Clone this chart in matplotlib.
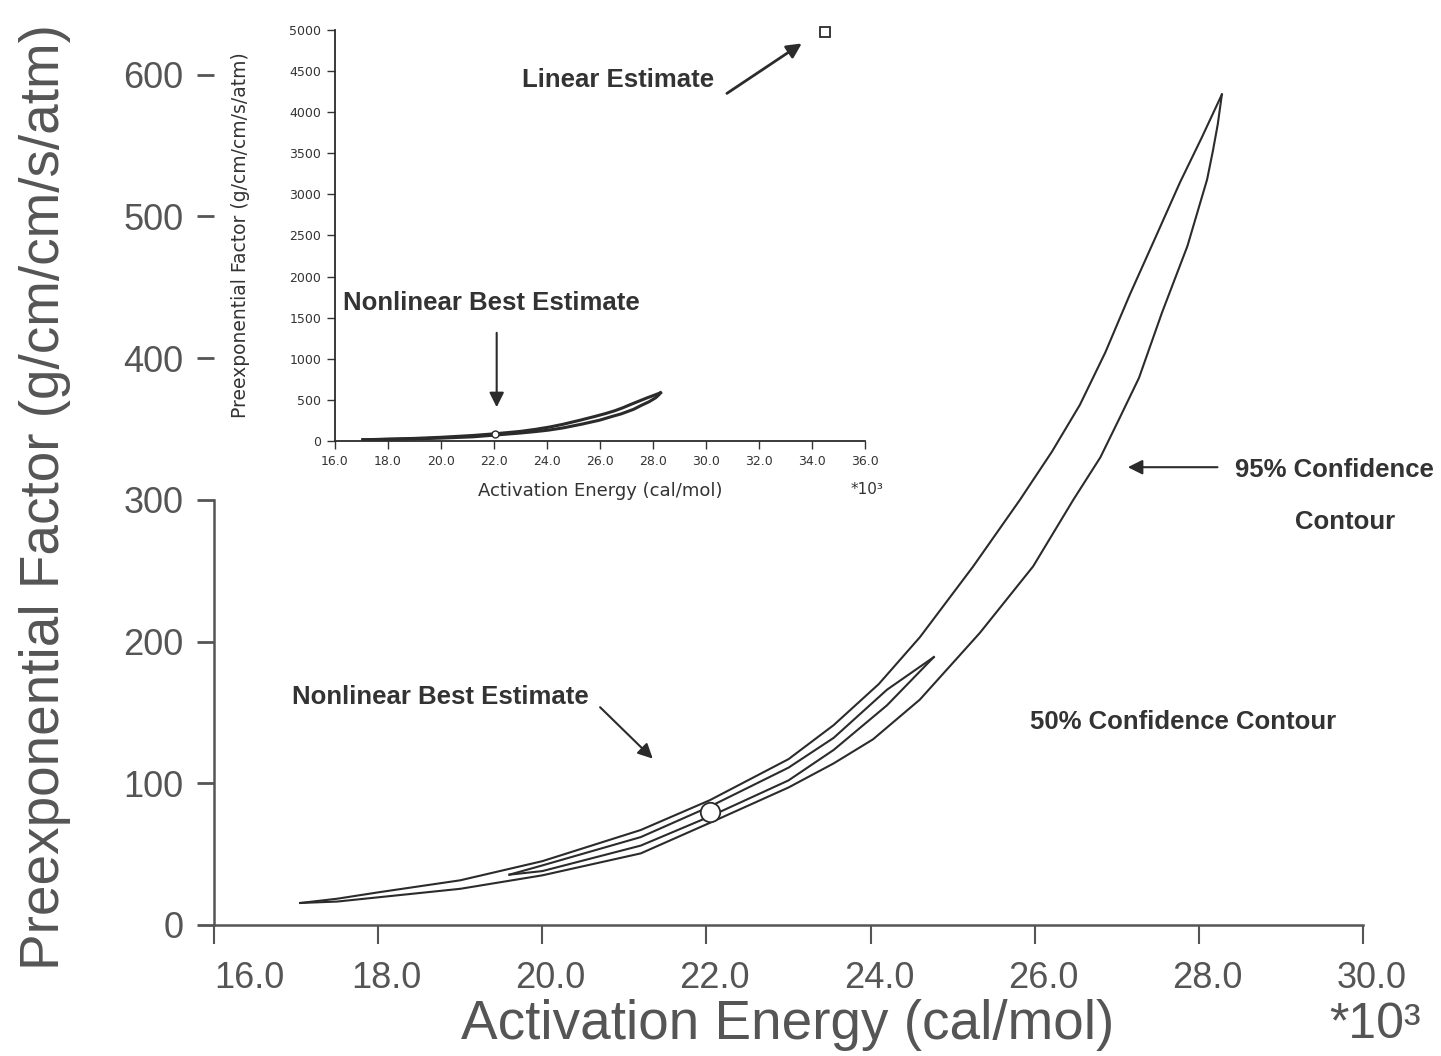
import numpy as np
import matplotlib.pyplot as plt
from matplotlib.transforms import ScaledTranslation

plt.rcParams['font.family'] = ['Liberation Sans', 'DejaVu Sans']

# Confidence contours, activation energy in 10^3 cal/mol, preexponential factor
e95_upper = [17.05, 17.5, 18.0, 19.0, 20.0, 21.2, 22.04, 23.0, 23.55, 24.1, 24.6, 25.25, 25.82,
             26.21, 26.55, 26.86, 27.16, 27.47, 27.77, 28.03, 28.28]
a95_upper = [15.5, 18.5, 23.0, 31.5, 45.0, 67.0, 88.0, 117.0, 141.0, 170.0, 203.0, 253.0, 300.0,
             334.0, 367.0, 404.0, 445.0, 485.0, 524.0, 555.0, 586.0]
e95_lower = [17.05, 17.5, 18.0, 19.0, 20.0, 21.2, 22.04, 23.0, 23.55, 24.03, 24.6, 25.33, 25.98,
             26.47, 26.8, 27.02, 27.27, 27.55, 27.86, 28.1, 28.17, 28.23, 28.28]
a95_lower = [15.5, 16.5, 19.5, 25.5, 35.0, 50.5, 72.0, 97.0, 114.0, 131.0, 159.0, 206.0, 253.0,
             300.0, 330.0, 356.0, 386.0, 432.0, 479.0, 526.0, 546.0, 565.0, 586.0]

e50 = [19.6, 20.0, 21.2, 22.04, 23.0, 23.55, 24.2, 24.77]
a50_upper = [35.5, 42.0, 62.0, 83.5, 111.0, 132.0, 166.0, 189.0]
a50_lower = [35.5, 38.0, 56.0, 76.5, 102.0, 123.5, 155.0, 189.0]

best_E, best_A = 22.04, 80.0
linear_E, linear_A = 34.5, 4970.0

main_xticks = [16.0, 18.0, 20.0, 22.0, 24.0, 26.0, 28.0, 30.0]
main_yticks = [0, 100, 200, 300, 400, 500, 600]
inset_xticks = [16.0, 18.0, 20.0, 22.0, 24.0, 26.0, 28.0, 30.0, 32.0, 34.0, 36.0]
inset_yticks = [0, 500, 1000, 1500, 2000, 2500, 3000, 3500, 4000, 4500, 5000]

line_col = '#2b2b2b'
text_col = '#333333'
axis_col = '#555555'

fig = plt.figure(figsize=(14.41, 10.56), dpi=100)

# ---- main plot ----
ax = fig.add_axes([0.1485, 0.1241, 0.7974, 0.8589])
ax.plot(e95_upper, a95_upper, color=line_col, lw=1.5)
ax.plot(e95_lower, a95_lower, color=line_col, lw=1.5)
ax.plot(e50, a50_upper, color=line_col, lw=1.5)
ax.plot(e50, a50_lower, color=line_col, lw=1.5)
ax.plot([best_E], [best_A], 'o', ms=14, mfc='white', mec=line_col, mew=1.3)

ax.set_xlim(16, 30)
ax.set_ylim(0, 640)
ax.set_xticks(main_xticks)
ax.set_xticklabels([f'{v:.1f}' for v in main_xticks])
ax.set_yticks(main_yticks)
ax.set_yticklabels([str(v) for v in main_yticks])
for s in ['top', 'right']:
    ax.spines[s].set_visible(False)
ax.spines['left'].set_bounds(0, 300)
for s in ['left', 'bottom']:
    ax.spines[s].set_color(axis_col)
    ax.spines[s].set_linewidth(1.8)
ax.tick_params(axis='x', direction='out', length=14, width=1.5, pad=12,
               labelsize=26, colors=axis_col)
ax.tick_params(axis='y', direction='out', length=12, width=2, pad=10,
               labelsize=26, colors=axis_col)
ax.patch.set_alpha(0)

xlabels = ax.get_xticklabels()
for i, lab in enumerate(xlabels):
    if i == 0:
        lab.set_horizontalalignment('left')
    else:
        lab.set_transform(lab.get_transform() + ScaledTranslation(6 / 72, 0, fig.dpi_scale_trans))

fig.text(788 / 1441, 1 - 1025 / 1056, 'Activation Energy (cal/mol)', fontsize=39.5,
         color=axis_col, ha='center', va='center')
fig.text(1375 / 1441, 1 - 1025 / 1056, '*10³', fontsize=36,
         color=axis_col, ha='center', va='center')
fig.text(45 / 1441, 1 - 497 / 1056, 'Preexponential Factor (g/cm/cm/s/atm)', fontsize=39.5,
         color=axis_col, ha='center', va='center', rotation=90)

ann = dict(fontsize=18.5, fontweight='bold', color=text_col)
ax.text(16.95, 161, 'Nonlinear Best Estimate', ha='left', va='center', **ann)
ax.annotate('', xy=(21.37, 116), xytext=(20.68, 155),
            arrowprops=dict(arrowstyle='-|>', color=line_col, lw=1.5, mutation_scale=22))
ax.text(25.94, 143, '50% Confidence Contour', ha='left', va='center', **ann)
ax.text(28.44, 321, '95% Confidence', ha='left', va='center', clip_on=False, **ann)
ax.text(29.78, 284, 'Contour', ha='center', va='center', clip_on=False, **ann)
ax.annotate('', xy=(27.10, 323), xytext=(28.26, 323),
            arrowprops=dict(arrowstyle='-|>', color=line_col, lw=1.5, mutation_scale=22))

# ---- inset plot ----
ins = fig.add_axes([0.2325, 0.5824, 0.3678, 0.3892])
ins.plot(e95_upper, a95_upper, color=line_col, lw=2.2)
ins.plot(e95_lower, a95_lower, color=line_col, lw=2.2)
ins.plot([best_E], [best_A], 'o', ms=5, mfc='white', mec=line_col, mew=1)
ins.plot([linear_E], [linear_A], 's', ms=7, mfc='white', mec=line_col, mew=1.3, clip_on=False)

ins.set_xlim(16, 36)
ins.set_ylim(0, 5000)
ins.set_xticks(inset_xticks)
ins.set_xticklabels([f'{v:.1f}' for v in inset_xticks])
ins.set_yticks(inset_yticks)
ins.set_yticklabels([str(v) for v in inset_yticks])
for s in ['top', 'right']:
    ins.spines[s].set_visible(False)
for s in ['left', 'bottom']:
    ins.spines[s].set_color(line_col)
    ins.spines[s].set_linewidth(1.3)
ins.tick_params(direction='out', length=6, width=1, pad=4, labelsize=9, colors=text_col)
for lab in ins.get_xticklabels() + ins.get_yticklabels():
    lab.set_family('DejaVu Sans')
ins.patch.set_alpha(0)

ins.set_xlabel('Activation Energy (cal/mol)', fontsize=13, color=text_col, family='DejaVu Sans')
ins.xaxis.set_label_coords(0.5, -0.1)
ins.set_ylabel('Preexponential Factor (g/cm/cm/s/atm)', fontsize=13.5, color=text_col,
               family='DejaVu Sans')
ins.yaxis.set_label_coords(-0.16, 0.5)
ins.text(36.08, -596, '*10³', fontsize=11, color=text_col, ha='center', va='center',
         family='DejaVu Sans')

ins.text(16.3, 1679, 'Nonlinear Best Estimate', ha='left', va='center', **ann)
ins.annotate('', xy=(22.1, 377), xytext=(22.1, 1350),
             arrowprops=dict(arrowstyle='-|>', color=line_col, lw=1.5, mutation_scale=22))
ins.text(23.06, 4390, 'Linear Estimate', ha='left', va='center', **ann)
ins.annotate('', xy=(33.7, 4855), xytext=(30.7, 4210),
             arrowprops=dict(arrowstyle='-|>', color=line_col, lw=2, mutation_scale=22))

fig.savefig('out.png', dpi=100)
